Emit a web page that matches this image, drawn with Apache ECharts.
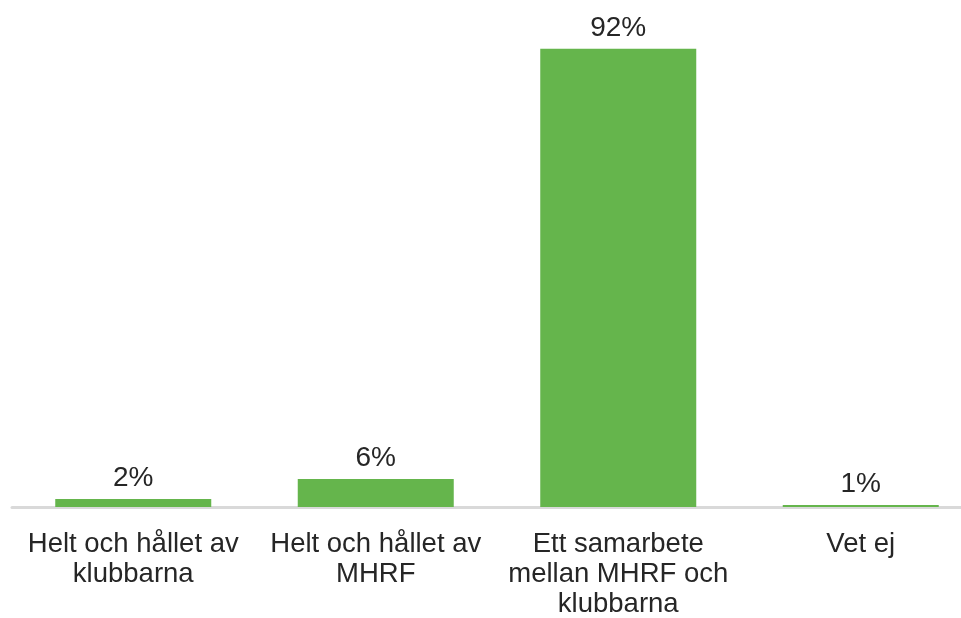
<!DOCTYPE html>
<html>
<head>
<meta charset="utf-8">
<script src="https://cdn.jsdelivr.net/npm/echarts@6/dist/echarts.min.js"></script>
<style>
  html, body { margin: 0; padding: 0; background: #fff; }
  #chart { width: 961px; height: 618px; }
</style>
</head>
<body>
<div id="chart"></div>
<script>
const categories = [
  'Helt och hållet av\nklubbarna',
  'Helt och hållet av\nMHRF',
  'Ett samarbete\nmellan MHRF och\nklubbarna',
  'Vet ej',
]
const shares = [1.6, 5.6, 92, 0.4]
const shareLabels = ['2%', '6%', '92%', '1%']

const chart = echarts.init(document.getElementById('chart'))

chart.setOption({
  animation: false,
  grid: { left: 12, top: 9, width: 970, height: 498, outerBoundsMode: 'none', containLabel: false },
  xAxis: {
    type: 'category',
    data: categories,
    offset: 2,
    axisLine: { lineStyle: { color: '#d9d9d9', width: 3 } },
    axisTick: { show: false },
    axisLabel: {
      color: '#262626',
      fontFamily: 'Liberation Sans',
      fontSize: 27.5,
      lineHeight: 30,
      margin: 20,
      interval: 0,
      hideOverlap: false,
    },
  },
  yAxis: {
    type: 'value',
    min: 0,
    max: 100,
    show: false,
  },
  series: [{
    type: 'bar',
    data: shares,
    barWidth: 156,
    itemStyle: { color: '#65b54c' },
    label: {
      show: true,
      position: 'top',
      distance: 7,
      color: '#262626',
      fontFamily: 'Liberation Sans',
      fontSize: 28,
      formatter: (p) => shareLabels[p.dataIndex],
    },
  }],
})
</script>
</body>
</html>
